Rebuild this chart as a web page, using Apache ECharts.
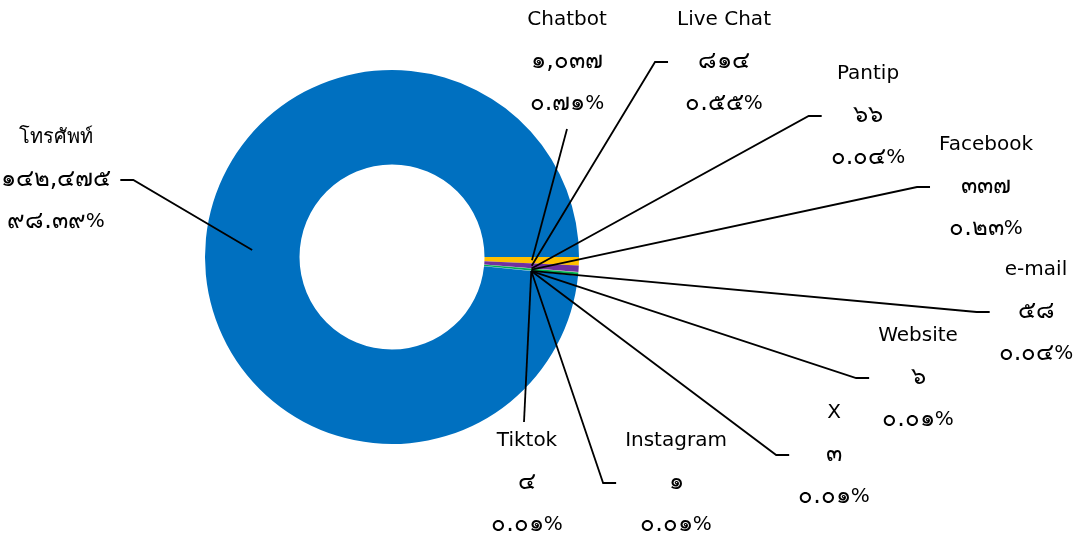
<!DOCTYPE html>
<html><head><meta charset="utf-8">
<script src="https://cdn.jsdelivr.net/npm/echarts@6/dist/echarts.min.js"></script>
<style>html,body{margin:0;padding:0;background:#fff}#c{width:1076px;height:537px}</style>
</head><body><div id="c"></div>
<script>
// ---- data ----
const categories = ['โทรศัพท์','Chatbot','Live Chat','Pantip','Facebook','e-mail','Website','X','Instagram','Tiktok'];
const values = [142475,1037,814,66,337,58,6,3,1,4];
const percentLabels = [98.39,0.71,0.55,0.04,0.23,0.04,0.01,0.01,0.01,0.01];

// ---- style / layout ----
const colors = ['#0070C0','#FFC000','#7030A0','#A5A5A5','#00B050','#5B9BD5','#ED7D31','#264478','#9E480E','#70AD47'];
const labelCenters = [[56,180],[567,62],[724,62],[868,116],[986,187],[1036,312],[918,378],[834,455],[676,483],[527,483]];
const CENTER = [392, 257];

const thaiDigits = '๐๑๒๓๔๕๖๗๘๙';
const toThai = s => String(s).replace(/[0-9]/g, d => thaiDigits[+d]);

const total = values.reduce((a,b)=>a+b,0);
const startAngle = -360 * (total - values[0]) / total;

const data = categories.map((n,i)=>({name:n, value:values[i], itemStyle:{color:colors[i]}}));

const chart = echarts.init(document.getElementById('c'), null, {renderer:'canvas'});
chart.setOption({
  animation:false,
  series:[
    {
      type:'pie', center:CENTER, radius:[92.5,187], startAngle:startAngle, clockwise:true,
      data:data, label:{show:false}, labelLine:{show:false}, silent:true,
      emphasis:{disabled:true}
    },
    {
      type:'pie', center:CENTER, radius:[0,140], startAngle:startAngle, clockwise:true, z:5,
      silent:true, avoidLabelOverlap:false, emphasis:{disabled:true},
      data:categories.map((n,i)=>({name:n, value:values[i]})),
      itemStyle:{color:'rgba(0,0,0,0)'},
      label:{
        show:true, position:'outside', color:'#000', fontFamily:'DejaVu Sans, sans-serif',
        fontSize:20, lineHeight:42, align:'center',
        formatter:p => '{n|' + p.name + '}\n{d|' + toThai(values[p.dataIndex].toLocaleString('en-US')) + '}\n{d|' + toThai(percentLabels[p.dataIndex].toFixed(2)) + '}{n|%}',
        rich:{
          n:{fontSize:20, lineHeight:42, color:'#000', fontFamily:'DejaVu Sans, sans-serif'},
          d:{fontSize:24, lineHeight:42, color:'#000', fontFamily:'DejaVu Sans, sans-serif'}
        }
      },
      labelLine:{show:true, length:10, length2:10, lineStyle:{color:'#000', width:1.8}},
      labelLayout:function(params){
        const i = params.dataIndex;
        const c = labelCenters[i];
        const w = params.labelRect.width, h = params.labelRect.height;
        const left = c[0]-w/2, right = c[0]+w/2, top = c[1]-h/2, bottom = c[1]+h/2;
        const a = params.labelLinePoints && params.labelLinePoints[0];
        let pts;
        if (a) {
          if (a[0] < left) {
            pts = [a, [left-22, c[1]], [left-9, c[1]]];
          } else if (a[0] > right) {
            pts = [a, [right+22, c[1]], [right+9, c[1]]];
          } else if (a[1] > bottom) {
            pts = [a, [c[0], bottom+4], [c[0], bottom+4]];
          } else {
            pts = [a, [c[0]-3, top+2], [c[0]-3, top+2]];
          }
        }
        const res = {x:c[0], y:c[1], align:'center', verticalAlign:'middle'};
        if (pts) res.labelLinePoints = pts;
        return res;
      }
    }
  ]
});
</script></body></html>
